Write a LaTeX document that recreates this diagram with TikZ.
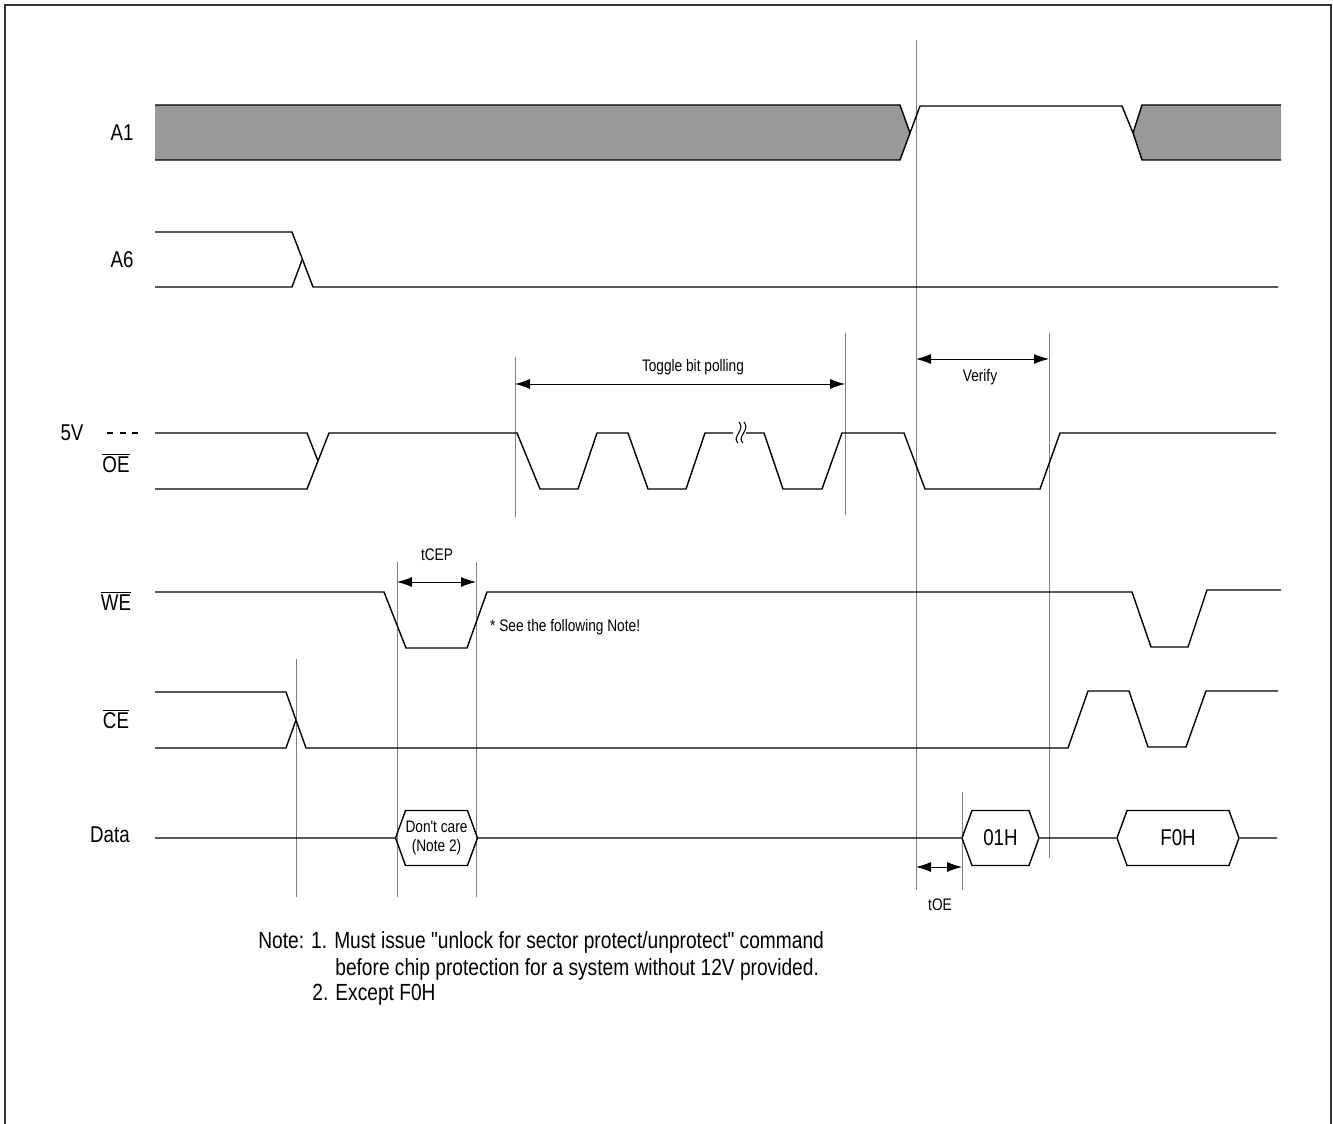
\documentclass[tikz,border=0pt]{standalone}
\usepackage{fontspec}
\setmainfont{Liberation Sans}[FakeStretch=0.82, Ligatures=TeXOff]
\usetikzlibrary{arrows.meta,shapes.symbols}

\begin{document}
\begin{tikzpicture}[x=0.02cm, y=-0.02cm,
		sig/.style = {line width=0.8pt, black},
		busfill/.style = {fill=black!40},
		guide/.style = {gray, line width=0.5pt},
		dimarrow/.style = {{Latex[length=0.3cm,width=0.2cm]}-{Latex[length=0.3cm,width=0.2cm]}, line width=0.5pt},
		lbl/.style = {font=\fontsize{13}{15}\selectfont},
		small/.style = {font=\fontsize{9.5}{11}\selectfont},
		notetext/.style = {font=\fontsize{13.3}{15}\selectfont, anchor=west, inner sep=0pt},
		valbox/.style = {draw, line width=0.8pt, signal, signal to=west and east, signal pointer angle=140, inner sep=0pt, minimum height=1.1cm, align=center},]
		
		\useasboundingbox (0,0) rectangle (1333,1124);
		\draw[black!80, line width=0.9pt] (5,1124) -- (5,5) -- (1331,5) -- (1331,1124);
		
		% signal names
		\node[lbl] (A1) at (122,133) {A1};
		\node[lbl] (A6) at (122,260) {A6};
		\node[lbl] (V5) at (72,433) {5V};
		\node[lbl] (OE) at (116,463) {$\overline{\mbox{OE}}$};
		\node[lbl] (WE) at (116,601) {$\overline{\mbox{WE}}$};
		\node[lbl] (CE) at (116,719) {$\overline{\mbox{CE}}$};
		\node[lbl] (Data) at (110,835) {Data};
		\draw[line width=0.6pt, dash pattern=on 3.4pt off 3.8pt] (107,433) -- (141,433);
		
		% guide lines
		\draw[guide] (296,659) -- (296,897);
		\draw[guide] (397,562) -- (397,897);
		\draw[guide] (476,562) -- (476,897);
		\draw[guide] (515,357) -- (515,517);
		\draw[guide] (845,333) -- (845,515);
		\draw[guide] (916,40) -- (916,890);
		\draw[guide] (1049,333) -- (1049,858);
		\draw[guide] (962,792) -- (962,890);
		
		% A1
		\fill[busfill] (155,105) -- (900,105) -- (910,133) -- (900,160) -- (155,160) -- cycle;
		\draw[sig] (155,105) -- (900,105) -- (910,133) -- (900,160) -- (155,160);
		\draw[sig] (910,133) -- (920,106) -- (1122,106) -- (1133,133);
		\fill[busfill] (1281,105) -- (1142,105) -- (1133,133) -- (1142,160) -- (1281,160) -- cycle;
		\draw[sig] (1281,105) -- (1142,105) -- (1133,133) -- (1142,160) -- (1281,160);
		
		% A6
		\draw[sig] (155,232) -- (292,232) -- (313,287) -- (1278,287);
		\draw[sig] (155,287) -- (292,287) -- (302,260);
		
		% OE
		\draw[sig] (155,433) -- (307,433) -- (318,461);
		\draw[sig] (155,489) -- (307,489) -- (329,433) -- (517,433) -- (540,489) -- (578,489) -- (597,433) -- (628,433) -- (648,489) -- (686,489) -- (705,433) -- (733,433);
		\draw[sig] (746,433) -- (764,433) -- (783,489) -- (822,489) -- (842,433) -- (904,433) -- (925,489) -- (1040,489) -- (1060,433) -- (1276,433);
		\draw[line width=0.6pt] (738,443) .. controls (731,437) and (746,430) .. (739,422);
		\draw[line width=0.6pt] (743,443) .. controls (736,437) and (751,430) .. (744,422);
		
		% WE
		\draw[sig] (155,592) -- (384,592) -- (406,648) -- (467,648) -- (487,592) -- (1132,592) -- (1151,647) -- (1188,647) -- (1207,590) -- (1281,590);
		
		% CE
		\draw[sig] (155,692) -- (286,692) -- (306,748) -- (1068,748) -- (1088,691) -- (1129,691) -- (1148,747) -- (1186,747) -- (1206,691) -- (1278,691);
		\draw[sig] (155,748) -- (286,748) -- (296,720);
		
		% Data
		\coordinate (d0) at (155,838);
		\coordinate (d1) at (1277,838);
		\node[valbox, small, minimum width=1.58cm] (dc) at (436.5,838) {Don't care\\(Note 2)};
		\node[valbox, lbl, minimum width=1.54cm] (v01) at (1000.5,838) {01H};
		\node[valbox, lbl, minimum width=2.44cm] (vF0) at (1178,838) {F0H};
		\draw[sig] (d0) -- (dc);
		\draw[sig] (dc) -- (v01);
		\draw[sig] (v01) -- (vF0);
		\draw[sig] (vF0) -- (d1);
		
		% timing marks
		\draw[dimarrow] (515,384) -- (845,384);
		\node[small] (tbp) at (693,367) {Toggle bit polling};
		\draw[dimarrow] (916,359) -- (1049,359);
		\node[small] (ver) at (980,377) {Verify};
		\draw[dimarrow] (397,582) -- (476,582);
		\node[small] (tcep) at (437,555) {tCEP};
		\draw[dimarrow] (916,867) -- (962,867);
		\node[small] (toe) at (940,905) {tOE};
		\node[small, anchor=west] (see) at (484,627) {* See the following Note!};
		
		% notes
		\node[notetext] (n1) at (258,942) {Note:\hspace{4pt}1. Must issue "unlock for sector protect/unprotect" command};
		\node[notetext] (n2) at (335,969) {before chip protection for a system without 12V provided.};
		\node[notetext] (n3) at (312,995) {2. Except F0H};
		
	\end{tikzpicture}
\end{document}
